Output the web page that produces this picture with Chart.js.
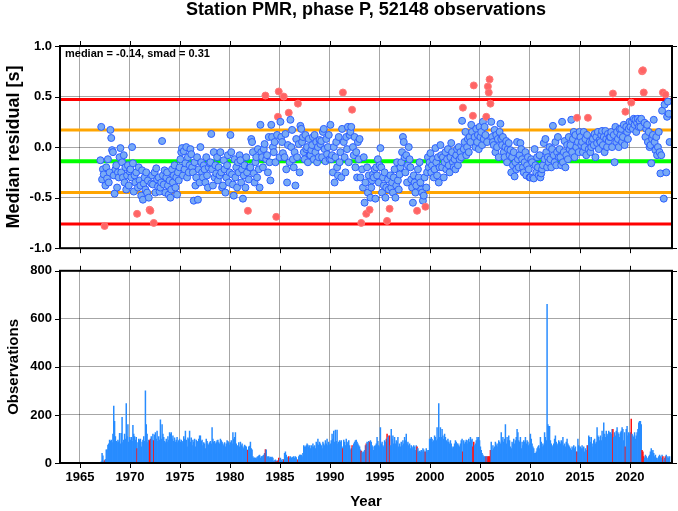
<!DOCTYPE html>
<html>
<head>
<meta charset="utf-8">
<script src="https://cdn.jsdelivr.net/npm/chart.js@4"></script>
<style>
  body { margin: 0; background: #fff; }
  canvas { position: absolute; left: 0; }
</style>
</head>
<body>
<canvas id="residualChart" width="678" height="264" style="top:0"></canvas>
<canvas id="countChart" width="678" height="256" style="top:255px"></canvas>
<script>
// monthly median residuals, one row per year starting at firstYear
const firstYear = 1967;
const residuals = [
  [-0.13, 0.20, -0.32, -0.22, -0.27, -0.78, -0.38, -0.20, -0.31, -0.12, -0.35, -0.25],
  [0.17, 0.09, -0.03, -0.05, -0.28, -0.46, -0.22, -0.18, -0.40, -0.25, -0.30, -0.10],
  [-0.01, -0.25, -0.15, -0.30, -0.08, -0.35, -0.20, -0.42, -0.28, -0.18, -0.38, -0.24],
  [-0.22, -0.30, 0.00, -0.16, -0.44, -0.28, -0.35, -0.25, -0.66, -0.40, -0.20, -0.33],
  [-0.38, -0.48, -0.23, -0.52, -0.36, -0.30, -0.42, -0.25, -0.45, -0.33, -0.50, -0.62],
  [-0.63, -0.36, -0.28, -0.37, -0.75, -0.25, -0.45, -0.21, -0.32, -0.39, -0.30, -0.44],
  [-0.40, -0.35, 0.06, -0.28, -0.37, -0.23, -0.45, -0.30, -0.25, -0.38, -0.47, -0.33],
  [-0.50, -0.42, -0.22, -0.35, -0.28, -0.18, -0.40, -0.30, -0.47, -0.25, -0.33, -0.20],
  [-0.12, -0.05, -0.01, -0.28, -0.04, -0.22, -0.16, 0.00, -0.30, -0.10, -0.25, -0.18],
  [-0.02, -0.07, -0.20, -0.25, -0.53, -0.15, -0.38, -0.30, -0.10, -0.52, -0.22, -0.35],
  [0.00, -0.15, -0.25, -0.30, -0.18, -0.22, -0.35, -0.10, -0.28, -0.40, -0.20, -0.16],
  [-0.15, 0.13, -0.22, -0.38, -0.05, -0.30, -0.18, -0.26, -0.10, -0.33, -0.20, -0.28],
  [-0.05, -0.25, -0.40, -0.38, -0.13, -0.22, -0.45, -0.30, -0.18, -0.08, -0.35, -0.25],
  [0.12, -0.05, -0.27, -0.37, -0.48, -0.12, -0.30, -0.20, -0.40, -0.15, -0.25, -0.08],
  [-0.13, -0.35, -0.22, -0.51, -0.28, -0.18, -0.40, -0.10, -0.25, -0.63, -0.32, -0.20],
  [-0.20, 0.08, 0.05, -0.05, -0.26, -0.35, -0.15, -0.10, -0.30, -0.02, -0.22, -0.40],
  [0.22, -0.05, -0.10, -0.20, -0.02, 0.03, 0.51, -0.12, -0.08, -0.25, 0.10, -0.15],
  [-0.33, 0.22, 0.10, 0.00, -0.05, 0.05, -0.15, -0.69, 0.12, 0.30, 0.55, -0.10],
  [0.25, 0.10, 0.05, -0.06, 0.50, -0.10, 0.13, -0.22, -0.35, 0.02, 0.34, -0.15],
  [0.27, 0.00, 0.17, -0.12, -0.20, -0.05, -0.38, 0.08, -0.10, 0.43, 0.03, -0.25],
  [0.21, 0.18, 0.05, 0.10, -0.05, -0.12, 0.12, -0.02, 0.00, -0.15, 0.08, -0.08],
  [-0.08, -0.03, 0.02, 0.10, -0.12, 0.12, -0.05, 0.05, -0.15, 0.00, -0.10, 0.07],
  [0.03, 0.06, -0.10, 0.15, 0.18, -0.02, -0.14, 0.08, -0.07, 0.00, 0.12, -0.12],
  [0.22, -0.12, -0.08, -0.25, 0.00, -0.35, -0.10, 0.05, -0.20, -0.28, 0.10, -0.15],
  [-0.05, -0.30, 0.18, 0.54, 0.05, -0.10, -0.25, 0.10, -0.02, 0.20, -0.15, 0.12],
  [0.15, 0.20, 0.37, 0.00, -0.08, 0.10, -0.20, -0.05, -0.30, 0.05, -0.12, 0.08],
  [-0.30, -0.75, -0.22, -0.40, -0.10, -0.55, -0.35, -0.66, -0.20, -0.45, -0.28, -0.62],
  [-0.50, -0.40, -0.33, -0.27, -0.30, -0.22, -0.51, -0.20, -0.28, -0.12, -0.35, -0.18],
  [-0.01, -0.20, -0.45, -0.30, -0.38, -0.25, -0.50, -0.40, -0.73, -0.32, -0.42, -0.61],
  [-0.28, -0.40, -0.35, -0.45, -0.30, -0.22, -0.50, -0.38, -0.15, -0.33, -0.42, -0.27],
  [-0.20, -0.15, -0.05, 0.10, 0.05, -0.10, -0.25, -0.08, -0.35, -0.18, 0.00, -0.12],
  [-0.20, -0.32, -0.40, -0.55, -0.28, -0.35, -0.45, -0.38, -0.63, -0.22, -0.30, -0.15],
  [-0.35, -0.42, -0.45, -0.53, -0.48, -0.30, -0.59, -0.40, -0.25, -0.10, -0.20, -0.15],
  [-0.06, -0.25, -0.18, -0.12, -0.30, -0.22, -0.01, -0.15, -0.28, -0.10, -0.35, -0.20],
  [0.02, -0.08, -0.20, -0.10, -0.30, -0.15, -0.05, -0.22, -0.12, -0.02, -0.18, -0.25],
  [-0.10, 0.04, -0.05, -0.15, -0.20, -0.12, -0.22, -0.08, -0.02, -0.18, 0.00, -0.12],
  [-0.05, -0.10, 0.26, 0.39, -0.02, 0.05, 0.15, -0.08, 0.00, 0.08, -0.05, 0.10],
  [0.05, 0.22, 0.15, 0.31, 0.61, 0.10, 0.00, 0.18, 0.05, 0.12, -0.02, 0.20],
  [0.10, 0.15, 0.02, 0.25, 0.08, 0.20, 0.12, 0.30, 0.05, 0.60, 0.54, 0.67],
  [0.43, 0.25, 0.10, 0.05, 0.02, 0.17, -0.05, 0.12, 0.00, 0.08, -0.10, 0.15],
  [0.23, 0.08, 0.02, 0.10, -0.05, -0.10, 0.00, 0.06, -0.15, -0.02, 0.04, -0.08],
  [-0.03, -0.25, -0.10, -0.18, -0.05, -0.29, -0.15, -0.22, 0.05, -0.12, -0.20, -0.08],
  [0.04, -0.02, -0.12, -0.20, -0.25, -0.15, -0.05, -0.28, -0.18, -0.10, -0.22, -0.30],
  [-0.30, -0.12, -0.15, -0.30, -0.31, -0.02, -0.18, -0.25, -0.10, -0.20, -0.28, -0.08],
  [-0.30, -0.26, -0.22, -0.18, 0.04, -0.12, 0.08, -0.05, -0.20, -0.10, -0.15, 0.00],
  [-0.12, -0.20, -0.02, 0.21, -0.08, -0.15, 0.05, -0.18, -0.05, 0.10, -0.10, -0.02],
  [-0.10, -0.18, 0.25, -0.15, -0.05, 0.06, -0.20, -0.08, 0.02, -0.12, 0.10, -0.02],
  [0.02, 0.27, -0.05, 0.08, 0.15, -0.10, 0.12, 0.00, 0.29, 0.05, -0.05, 0.15],
  [0.10, 0.02, 0.05, -0.05, 0.15, 0.00, 0.08, -0.08, 0.12, 0.29, -0.02, 0.05],
  [-0.05, 0.00, 0.05, 0.08, 0.02, 0.13, -0.10, 0.10, 0.04, 0.15, -0.02, 0.07],
  [0.05, 0.12, 0.16, 0.02, 0.10, -0.05, 0.16, 0.08, 0.00, 0.13, 0.06, 0.10],
  [0.10, 0.15, 0.00, 0.53, 0.12, -0.15, 0.20, 0.05, 0.15, 0.08, 0.00, 0.18],
  [0.12, 0.18, 0.05, 0.10, 0.22, 0.02, 0.35, 0.20, 0.15, 0.08, 0.18, 0.25],
  [0.20, 0.44, 0.25, 0.18, 0.28, 0.22, 0.27, 0.15, 0.24, 0.28, 0.20, 0.26],
  [0.20, 0.28, 0.75, 0.76, 0.54, 0.24, 0.10, 0.18, 0.22, 0.05, 0.15, 0.00],
  [0.02, -0.16, 0.08, 0.12, 0.27, 0.05, -0.03, 0.10, -0.08, 0.00, 0.15, -0.05],
  [-0.26, -0.08, 0.36, 0.54, -0.51, 0.42, 0.52, -0.25, 0.30, 0.45, 0.33, 0.05]
];

// monthly observation counts, same layout
const observations = [
  [3, 5, 40, 30, 5, 10, 15, 55, 55, 75, 80, 95],
  [90, 95, 85, 120, 237, 173, 110, 90, 85, 95, 88, 123],
  [80, 123, 190, 85, 95, 120, 100, 247, 110, 160, 87, 107],
  [95, 107, 90, 157, 120, 110, 95, 107, 60, 85, 100, 95],
  [100, 67, 87, 95, 110, 90, 300, 160, 120, 85, 95, 93],
  [100, 110, 95, 120, 93, 117, 127, 100, 133, 90, 110, 95],
  [180, 100, 160, 120, 107, 90, 85, 100, 87, 110, 95, 127],
  [120, 127, 100, 113, 90, 105, 87, 95, 107, 85, 93, 100],
  [87, 95, 85, 90, 110, 100, 133, 95, 67, 105, 100, 133],
  [87, 105, 73, 95, 87, 100, 67, 95, 90, 87, 100, 113],
  [113, 90, 95, 73, 85, 80, 60, 100, 90, 80, 75, 85],
  [90, 80, 147, 100, 87, 90, 80, 85, 93, 95, 85, 80],
  [100, 93, 87, 80, 73, 85, 67, 80, 93, 90, 85, 75],
  [85, 93, 80, 127, 100, 107, 127, 80, 73, 70, 85, 67],
  [87, 73, 80, 67, 60, 75, 70, 67, 55, 53, 67, 70],
  [87, 60, 55, 27, 20, 22, 20, 18, 25, 27, 30, 33],
  [20, 27, 27, 30, 33, 40, 56, 55, 27, 25, 27, 22],
  [25, 23, 25, 20, 8, 10, 13, 7, 10, 8, 20, 13],
  [20, 13, 7, 15, 13, 40, 47, 33, 20, 25, 27, 20],
  [27, 20, 23, 25, 27, 20, 27, 23, 13, 13, 27, 33],
  [33, 33, 27, 40, 73, 67, 67, 73, 80, 75, 67, 73],
  [60, 73, 67, 80, 67, 73, 60, 87, 80, 100, 75, 87],
  [80, 73, 60, 87, 80, 73, 93, 80, 100, 73, 87, 75],
  [80, 93, 120, 100, 133, 87, 137, 90, 137, 80, 87, 93],
  [87, 93, 67, 60, 95, 87, 73, 100, 87, 80, 93, 73],
  [55, 60, 73, 67, 80, 87, 93, 95, 87, 80, 73, 67],
  [55, 50, 47, 40, 47, 53, 73, 80, 87, 85, 90, 87],
  [93, 87, 73, 67, 53, 70, 73, 80, 107, 90, 73, 67],
  [147, 80, 87, 73, 67, 93, 87, 100, 120, 107, 113, 113],
  [73, 140, 100, 113, 80, 107, 80, 93, 87, 107, 67, 80],
  [67, 87, 73, 93, 80, 107, 93, 120, 80, 87, 73, 80],
  [60, 73, 67, 60, 73, 67, 53, 73, 67, 60, 47, 50],
  [47, 53, 47, 60, 55, 47, 47, 60, 53, 47, 53, 100],
  [100, 107, 100, 87, 93, 113, 107, 93, 147, 100, 247, 107],
  [147, 107, 140, 113, 100, 120, 107, 93, 87, 100, 87, 80],
  [93, 80, 67, 60, 67, 80, 93, 87, 80, 80, 73, 67],
  [80, 93, 100, 47, 93, 80, 87, 95, 80, 93, 100, 87],
  [107, 93, 100, 67, 87, 73, 80, 93, 107, 100, 107, 93],
  [67, 53, 40, 33, 27, 27, 27, 27, 27, 27, 27, 27],
  [53, 87, 53, 73, 60, 67, 87, 73, 80, 67, 93, 87],
  [80, 127, 93, 107, 87, 100, 160, 80, 107, 93, 113, 93],
  [67, 60, 87, 80, 100, 80, 93, 107, 140, 127, 93, 87],
  [107, 60, 87, 73, 93, 87, 107, 80, 93, 87, 73, 80],
  [120, 100, 80, 67, 60, 40, 40, 47, 60, 67, 73, 60],
  [107, 87, 67, 80, 73, 127, 107, 93, 660, 160, 153, 153],
  [93, 80, 73, 67, 80, 100, 113, 87, 73, 80, 93, 87],
  [80, 93, 87, 107, 73, 80, 67, 87, 100, 80, 73, 67],
  [60, 53, 67, 60, 73, 60, 67, 47, 47, 100, 73, 67],
  [67, 60, 73, 60, 67, 47, 60, 53, 73, 73, 113, 107],
  [87, 107, 80, 67, 93, 100, 80, 87, 147, 113, 107, 93],
  [113, 93, 133, 107, 167, 120, 107, 133, 120, 113, 133, 127],
  [127, 120, 140, 140, 107, 127, 113, 133, 147, 127, 120, 107],
  [127, 133, 147, 140, 93, 127, 67, 140, 153, 113, 127, 120],
  [127, 183, 120, 113, 107, 127, 100, 113, 127, 140, 167, 173],
  [173, 160, 53, 47, 27, 20, 33, 27, 20, 13, 27, 33],
  [47, 60, 47, 53, 40, 27, 33, 20, 20, 13, 27, 33],
  [27, 20, 33, 27, 13, 20, 27, 33, 20, 27, 20, 27]
];

// months drawn in red (YYYY-MM)
const flagged = [
  '1967-06', '1970-09', '1971-12', '1972-01', '1972-05', '1981-10', '1983-07',
  '1984-08', '1984-10', '1984-11', '1985-05', '1985-11', '1986-10', '1991-04',
  '1992-03', '1993-02', '1993-08', '1993-12', '1995-09', '1995-12', '1998-09',
  '1999-07', '2003-04', '2004-04', '2004-05', '2005-08', '2005-10', '2005-11',
  '2005-12', '2006-01', '2014-09', '2015-10', '2018-04', '2019-07', '2020-02',
  '2021-03', '2021-04', '2021-05', '2023-04', '2023-07'
];

const median = -0.14;
const smad = 0.31;
const levels = [0.47, 0.17, -0.14, -0.45, -0.76];
const levelColors = ['#ff0000', '#ffa500', '#00ff00', '#ffa500', '#ff0000'];
const levelWidths = [3, 3, 4, 3, 3];
const yearTicks = [1965, 1970, 1975, 1980, 1985, 1990, 1995, 2000, 2005, 2010, 2015, 2020];
const residualTicks = [-1, -0.5, 0, 0.5, 1];
const countTicks = [0, 200, 400, 600, 800];
const xMin = 1963;
const xMax = 2024.2;

const FONT = 'Liberation Sans';
Chart.defaults.font.family = FONT;
Chart.defaults.color = '#000';

function monthKey(r, m) {
  return (firstYear + r) + '-' + String(m + 1).padStart(2, '0');
}

const points = [], pointFlags = [];
residuals.forEach((row, r) => row.forEach((v, m) => {
  points.push({ x: firstYear + r + (m + 0.5) / 12, y: v });
  pointFlags.push(flagged.includes(monthKey(r, m)));
}));

const bars = [], barFlags = [];
observations.forEach((row, r) => row.forEach((v, m) => {
  bars.push({ x: firstYear + r + (m + 0.5) / 12, y: v });
  barFlags.push(flagged.includes(monthKey(r, m)));
}));

// black frame with outward ticks on all four sides
const frame = {
  id: 'frame',
  afterDraw(chart) {
    const { ctx, chartArea: a, scales } = chart;
    ctx.save();
    ctx.strokeStyle = '#000';
    ctx.lineWidth = 1;
    ctx.beginPath();
    yearTicks.forEach(t => {
      const px = Math.round(scales.x.getPixelForValue(t)) + 0.5;
      ctx.moveTo(px, a.top); ctx.lineTo(px, a.top - 5);
      ctx.moveTo(px, a.bottom); ctx.lineTo(px, a.bottom + 5);
    });
    scales.y.ticks.forEach(t => {
      const py = Math.round(scales.y.getPixelForValue(t.value)) + 0.5;
      ctx.moveTo(a.left, py); ctx.lineTo(a.left - 5, py);
      ctx.moveTo(a.right, py); ctx.lineTo(a.right + 5, py);
    });
    ctx.stroke();
    ctx.lineWidth = 2;
    ctx.strokeRect(a.left, a.top, a.right - a.left, a.bottom - a.top);
    ctx.restore();
  }
};

const heading = {
  id: 'heading',
  afterDraw(chart) {
    const { ctx, chartArea: a } = chart;
    ctx.save();
    ctx.fillStyle = '#000';
    ctx.font = 'bold 18px ' + FONT;
    ctx.textAlign = 'center';
    ctx.textBaseline = 'middle';
    ctx.fillText('Station PMR, phase P, 52148 observations', (a.left + a.right) / 2, 10);
    ctx.font = 'bold 11px ' + FONT;
    ctx.textAlign = 'left';
    ctx.fillText('median = ' + median.toFixed(2) + ', smad = ' + smad.toFixed(2), a.left + 5, a.top + 8);
    ctx.restore();
  }
};

const gridStyle = { color: 'rgba(0,0,0,0.35)', lineWidth: 1, drawTicks: false };

function xScale(showLabels) {
  return {
    type: 'linear',
    min: xMin,
    max: xMax,
    offset: false,
    border: { display: false },
    grid: { ...gridStyle, offset: false },
    afterBuildTicks: s => { s.ticks = yearTicks.map(v => ({ value: v })); },
    afterFit: s => { s.height = showLabels ? 48 : 8; },
    ticks: {
      display: showLabels,
      maxRotation: 0,
      padding: 7,
      font: { size: 13, weight: 'bold' },
      callback: v => String(v)
    },
    title: {
      display: showLabels,
      text: 'Year',
      font: { size: 15, weight: 'bold' },
      padding: { top: 0, bottom: 0 }
    }
  };
}

function yScale(min, max, tickValues, label, size, fmt) {
  return {
    min: min,
    max: max,
    border: { display: false },
    grid: gridStyle,
    afterBuildTicks: s => { s.ticks = tickValues.map(v => ({ value: v })); },
    afterFit: s => { s.width = 60; },
    ticks: { padding: 8, font: { size: 13, weight: 'bold' }, callback: fmt },
    title: {
      display: true,
      text: label,
      font: { size: size, weight: 'bold' },
      padding: { top: 14 - size * 0.6, bottom: 0 }
    }
  };
}

const levelSets = levels.map((v, i) => ({
  type: 'line',
  data: [{ x: xMin, y: v }, { x: xMax, y: v }],
  borderColor: levelColors[i],
  borderWidth: levelWidths[i],
  pointRadius: 0,
  order: 2
}));

new Chart(document.getElementById('residualChart'), {
  type: 'scatter',
  data: {
    datasets: [{
      data: points,
      pointRadius: 3.5,
      borderWidth: 1,
      pointBackgroundColor: ctx => pointFlags[ctx.dataIndex] ? 'rgb(255,100,100)' : 'rgb(120,170,245)',
      pointBorderColor: ctx => pointFlags[ctx.dataIndex] ? 'rgb(255,120,120)' : 'rgb(45,95,255)',
      order: 0
    }, ...levelSets]
  },
  options: {
    responsive: false,
    animation: false,
    layout: { autoPadding: false, padding: { top: 46, right: 6, left: 0, bottom: 0 } },
    plugins: { legend: { display: false }, tooltip: { enabled: false } },
    scales: {
      x: xScale(false),
      y: yScale(-1, 1, residualTicks, 'Median residual [s]', 18, v => v.toFixed(1))
    }
  },
  plugins: [frame, heading]
});

new Chart(document.getElementById('countChart'), {
  type: 'bar',
  data: {
    datasets: [{
      data: bars,
      backgroundColor: ctx => barFlags[ctx.dataIndex] ? '#ff1010' : 'rgb(40,140,255)',
      borderWidth: 0,
      barPercentage: 1,
      categoryPercentage: 1
    }]
  },
  options: {
    responsive: false,
    animation: false,
    layout: { autoPadding: false, padding: { top: 7, right: 6, left: 0, bottom: 0 } },
    plugins: { legend: { display: false }, tooltip: { enabled: false } },
    scales: {
      x: xScale(true),
      y: yScale(0, 800, countTicks, 'Observations', 15, v => String(v))
    }
  },
  plugins: [frame]
});
</script>
</body>
</html>
